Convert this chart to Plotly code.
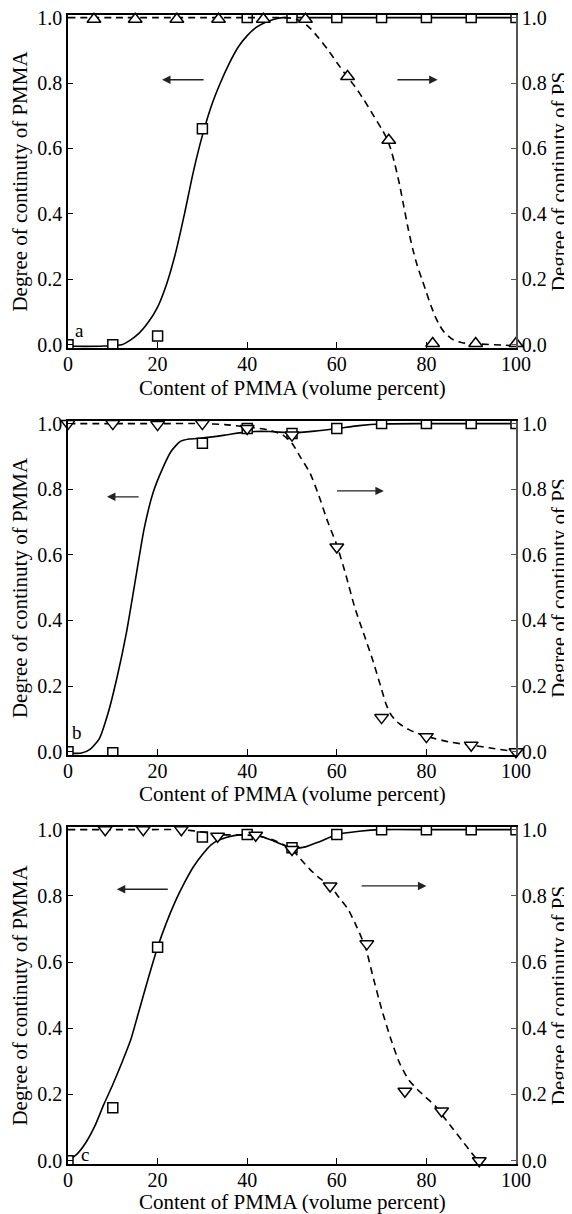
import plotly.graph_objects as go
from plotly.subplots import make_subplots

# ---------------- data ----------------
x_ticks = [0, 20, 40, 60, 80, 100]
y_ticks = [0.0, 0.2, 0.4, 0.6, 0.8, 1.0]
y_tick_text = ["0.0", "0.2", "0.4", "0.6", "0.8", "1.0"]

# panel a
a_pmma_x = [0, 10, 20, 30, 40, 50, 60, 70, 80, 90, 100]
a_pmma_y = [0.0, 0.0, 0.027, 0.66, 1.0, 1.0, 1.0, 1.0, 1.0, 1.0, 1.0]
a_ps_x = [5.8, 15, 24.3, 33.6, 43.6, 53, 62.4, 71.6, 81.4, 91, 100]
a_ps_y = [0.995, 0.995, 0.995, 0.995, 0.995, 0.995, 0.82, 0.625, 0.004, 0.004, 0.004]
a_pmma_curve_x = [0, 4, 8, 12, 14, 16, 18, 20, 22, 24, 26, 28, 30, 32, 34, 36, 38, 40, 42, 44, 46, 48, 52, 60, 70, 80, 90, 100]
a_pmma_curve_y = [-0.004, -0.005, -0.004, 0.0, 0.015, 0.037, 0.07, 0.115, 0.185, 0.28, 0.4, 0.53, 0.64, 0.73, 0.8, 0.86, 0.91, 0.945, 0.97, 0.985, 0.995, 1.0, 1.0, 1.0, 1.0, 1.0, 1.0, 1.0]
a_ps_curve_x = [0, 10, 20, 30, 40, 48, 50, 52, 54, 56, 58, 60, 62, 64, 66, 68, 70, 71, 72, 73, 74, 75, 76, 77, 78, 79, 80, 81, 82, 83, 84, 86, 88, 92, 100]
a_ps_curve_y = [1.0, 1.0, 1.0, 1.0, 1.0, 1.0, 0.998, 0.99, 0.968, 0.937, 0.902, 0.863, 0.825, 0.79, 0.75, 0.705, 0.66, 0.635, 0.6, 0.55, 0.49, 0.42, 0.35, 0.29, 0.24, 0.2, 0.16, 0.12, 0.085, 0.058, 0.038, 0.015, 0.006, 0.002, -0.003]

# panel b
b_pmma_x = [0, 10, 30, 40, 50, 60, 70, 80, 90, 100]
b_pmma_y = [0.0, -0.003, 0.94, 0.985, 0.97, 0.985, 1.0, 1.0, 1.0, 1.0]
b_ps_x = [0, 10, 20, 30, 40, 50, 60, 70, 80, 90, 100]
b_ps_y = [1.0, 1.0, 0.997, 1.0, 0.985, 0.965, 0.624, 0.104, 0.046, 0.02, 0.0]
b_pmma_curve_x = [0, 3, 5, 7, 9, 11, 13, 15, 17, 19, 21, 23, 25, 27, 30, 35, 40, 45, 50, 55, 60, 65, 70, 80, 90, 100]
b_pmma_curve_y = [-0.005, -0.004, 0.008, 0.04, 0.12, 0.23, 0.36, 0.52, 0.68, 0.79, 0.86, 0.915, 0.945, 0.953, 0.956, 0.965, 0.975, 0.976, 0.972, 0.977, 0.985, 0.994, 0.999, 1.0, 1.0, 1.0]
b_ps_curve_x = [0, 10, 20, 30, 35, 40, 45, 48, 50, 52, 54, 56, 58, 60, 62, 64, 66, 68, 70, 71, 72, 73, 74, 76, 78, 80, 85, 90, 95, 100]
b_ps_curve_y = [1.0, 1.0, 1.0, 1.0, 0.997, 0.99, 0.98, 0.965, 0.94, 0.895, 0.85, 0.78, 0.7, 0.63, 0.54, 0.44, 0.36, 0.28, 0.19, 0.145, 0.115, 0.097, 0.085, 0.068, 0.056, 0.047, 0.03, 0.02, 0.01, 0.0]

# panel c
c_pmma_x = [0, 10, 20, 30, 40, 50, 60, 70, 80, 90, 100]
c_pmma_y = [0.0, 0.16, 0.645, 0.978, 0.985, 0.945, 0.985, 1.0, 1.0, 1.0, 1.0]
c_ps_x = [8.3, 16.8, 25.3, 33.4, 41.9, 50, 58.5, 66.7, 75.2, 83.4, 91.8]
c_ps_y = [1.0, 1.0, 1.0, 0.98, 0.983, 0.94, 0.83, 0.655, 0.21, 0.15, 0.0]
c_pmma_curve_x = [0, 2, 4, 6, 8, 10, 12, 14, 16, 18, 20, 22, 24, 26, 28, 30, 32, 34, 37, 40, 43, 46, 50, 53, 56, 60, 65, 70, 80, 90, 100]
c_pmma_curve_y = [0.0, 0.02, 0.055, 0.105, 0.17, 0.23, 0.295, 0.365, 0.46, 0.555, 0.645, 0.72, 0.785, 0.84, 0.888, 0.925, 0.955, 0.97, 0.982, 0.985, 0.98, 0.965, 0.945, 0.948, 0.963, 0.985, 0.995, 1.0, 1.0, 1.0, 1.0]
c_ps_curve_x = [0, 8.3, 16.8, 25.3, 30, 33.4, 38, 42, 46, 50, 52, 54, 56, 58.5, 60.5, 62.5, 64.5, 66.5, 68, 70, 72, 74, 76, 78, 80, 82, 84, 86, 88, 90, 91.5]
c_ps_curve_y = [1.0, 1.0, 1.0, 1.0, 0.993, 0.985, 0.984, 0.982, 0.968, 0.94, 0.91, 0.88, 0.855, 0.83, 0.795, 0.76, 0.705, 0.64, 0.56, 0.458, 0.37, 0.295, 0.245, 0.215, 0.19, 0.165, 0.13, 0.095, 0.06, 0.025, 0.0]

panel_labels = ["a", "b", "c"]
label_pos = [(2.5, 0.045), (2.0, 0.06), (3.8, 0.02)]
left_arrows = [((30.6, 0.81), (21.0, 0.81)), ((16.1, 0.777), (8.7, 0.777)), ((22.6, 0.82), (10.9, 0.82))]
right_arrows = [((73.2, 0.81), (82.5, 0.81)), ((59.7, 0.795), (70.5, 0.795)), ((65.2, 0.83), (80.0, 0.83))]

x_title = "Content of PMMA (volume percent)"
y_left_title = "Degree of continuty of PMMA"
y_right_title = "Degree of continuty of PS"

panels = [
    (a_pmma_x, a_pmma_y, a_ps_x, a_ps_y, a_pmma_curve_x, a_pmma_curve_y, a_ps_curve_x, a_ps_curve_y, "triangle-up"),
    (b_pmma_x, b_pmma_y, b_ps_x, b_ps_y, b_pmma_curve_x, b_pmma_curve_y, b_ps_curve_x, b_ps_curve_y, "triangle-down"),
    (c_pmma_x, c_pmma_y, c_ps_x, c_ps_y, c_pmma_curve_x, c_pmma_curve_y, c_ps_curve_x, c_ps_curve_y, "triangle-down"),
]

FONT = "Liberation Serif, DejaVu Serif, serif"
# page body has an 8px margin, so the figure is drawn 8px in from the top-left
OFF = 8
W, H = 572 - OFF, 1214 - OFF
ML, MR, MT, MB = 68 - OFF, 56, 15 - OFF, 50

fig = make_subplots(rows=3, cols=1, specs=[[{"secondary_y": True}]] * 3)

for i, (px_, py_, sx, sy, pcx, pcy, scx, scy, tri) in enumerate(panels):
    row = i + 1
    fig.add_trace(go.Scatter(x=pcx, y=pcy, mode="lines", line=dict(color="black", width=1.6, shape="spline", smoothing=0.6),
                             showlegend=False, hoverinfo="skip"), row=row, col=1, secondary_y=False)
    fig.add_trace(go.Scatter(x=scx, y=scy, mode="lines", line=dict(color="black", width=1.6, dash="7px,5px", shape="spline", smoothing=0.6),
                             showlegend=False, hoverinfo="skip"), row=row, col=1, secondary_y=True)
    fig.add_trace(go.Scatter(x=px_, y=py_, mode="markers",
                             marker=dict(symbol="square", size=10, color="white", line=dict(color="black", width=1.5)),
                             showlegend=False), row=row, col=1, secondary_y=False)
    fig.add_trace(go.Scatter(x=sx, y=sy, mode="markers", cliponaxis=False,
                             marker=dict(symbol=tri, size=12, color="white", line=dict(color="black", width=1.5)),
                             showlegend=False), row=row, col=1, secondary_y=True)

# panel top/bottom in page pixels, and x-title offset below each axis
pan_px = [(15, 348), (421, 755), (827, 1164)]
xtitle_off = [40, 39, 38]
plot_h = H - MT - MB
def to_paper(p):
    return (OFF + H - MB - p) / plot_h

tick_font = dict(family=FONT, size=20, color="black")
title_font = dict(family=FONT, size=21, color="black")
annotations = []
for i, (top, bot) in enumerate(pan_px):
    dom = [to_paper(bot), to_paper(top)]
    xname = "xaxis" if i == 0 else f"xaxis{i + 1}"
    fig.layout[xname].update(domain=[0, 1], range=[0, 100], tickvals=x_ticks, ticks="inside", ticklen=6,
                             tickcolor="black", showline=True, linecolor="black", linewidth=1.5, mirror=True,
                             showgrid=False, zeroline=False, tickfont=tick_font, ticklabelstandoff=-3)
    ynum = 2 * i + 1
    yl = "yaxis" if ynum == 1 else f"yaxis{ynum}"
    yr = f"yaxis{ynum + 1}"
    rng = [-0.01, 1.008]
    fig.layout[yl].update(domain=dom, range=rng, tickvals=y_ticks, ticktext=y_tick_text, ticks="inside", ticklen=5,
                          tickcolor="black", showline=True, linecolor="black", linewidth=1.5,
                          showgrid=False, zeroline=False, tickfont=tick_font, ticklabeloverflow="allow",
                          title=dict(text=y_left_title, font=title_font, standoff=4))
    fig.layout[yr].update(domain=dom, range=rng, tickvals=y_ticks, ticktext=y_tick_text, ticks="inside", ticklen=5,
                          tickcolor="#555", showline=True, linecolor="#555", linewidth=1.5,
                          showgrid=False, zeroline=False, tickfont=tick_font, ticklabeloverflow="allow",
                          title=dict(text=y_right_title, font=title_font, standoff=0))
    # x-axis title placed below each panel
    annotations.append(dict(x=0.5, y=to_paper(bot + xtitle_off[i]), xref="paper", yref="paper", text=x_title,
                            showarrow=False, xanchor="center", yanchor="middle", font=title_font))

for i in range(3):
    xr = "x" if i == 0 else f"x{i + 1}"
    yr_ = "y" if i == 0 else f"y{2 * i + 1}"
    lx, ly = label_pos[i]
    annotations.append(dict(x=lx, y=ly, xref=xr, yref=yr_, text=panel_labels[i], showarrow=False,
                            font=dict(family=FONT, size=19, color="black")))
    for (sx0, sy0), (ex, ey) in (left_arrows[i], right_arrows[i]):
        annotations.append(dict(x=ex, y=ey, ax=sx0, ay=sy0, xref=xr, yref=yr_, axref=xr, ayref=yr_,
                                text="", showarrow=True, arrowhead=2, arrowsize=1.3, arrowwidth=1.3,
                                arrowcolor="#222"))

fig.update_layout(width=W, height=H, margin=dict(l=ML, r=MR, t=MT, b=MB, autoexpand=False),
                  paper_bgcolor="white", plot_bgcolor="white", annotations=annotations,
                  font=dict(family=FONT, size=20, color="black"))

fig.write_html("out.html")
